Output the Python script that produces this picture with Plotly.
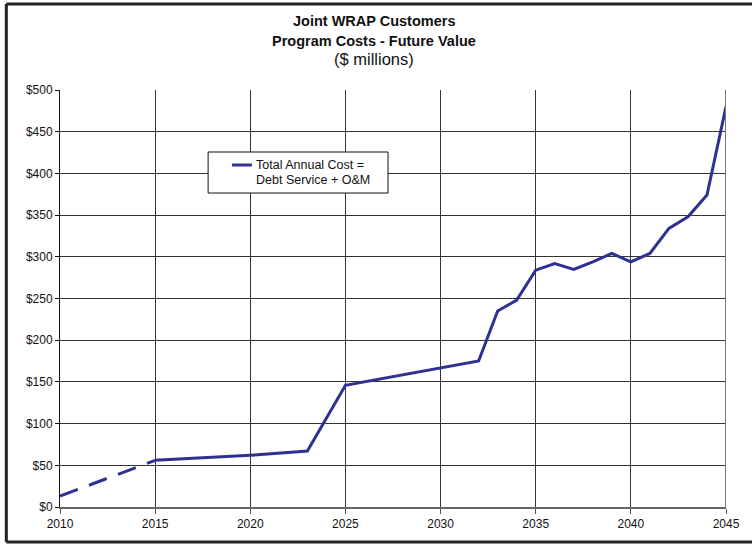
import plotly.graph_objects as go

years_proj = [2010, 2015]
cost_proj = [13, 56]

years = [2015, 2020, 2023, 2025, 2032, 2033, 2034, 2035, 2036, 2037, 2038, 2039,
         2040, 2041, 2042, 2043, 2044, 2045]
cost = [56, 62, 67, 146, 175, 235, 248, 284, 292, 285, 294, 304,
        294, 304, 334, 348, 374, 480]

x_ticks = [2010, 2015, 2020, 2025, 2030, 2035, 2040, 2045]
y_ticks = [0, 50, 100, 150, 200, 250, 300, 350, 400, 450, 500]
y_labels = ["$" + str(v) for v in y_ticks]

legend_lines = ["Total Annual Cost =", "Debt Service + O&M"]

line_color = "#2E3192"
font_family = "Liberation Sans, Arial, sans-serif"

# pixel geometry of the plot area
plot_l, plot_r, plot_top, plot_bottom = 60, 730, 90, 507
W, H = 752, 544
plot_w = plot_r - plot_l
plot_h = plot_bottom - plot_top

def px(pix):
    return (pix - plot_l) / plot_w

def py(pix):
    return (plot_bottom - pix) / plot_h

fig = go.Figure()
fig.add_trace(go.Scatter(x=years_proj, y=cost_proj, mode="lines",
                         line=dict(color=line_color, width=3, dash="19px,12px"),
                         showlegend=False, hoverinfo="skip"))
fig.add_trace(go.Scatter(x=years, y=cost, mode="lines",
                         line=dict(color=line_color, width=3),
                         name=" ".join(legend_lines), showlegend=False))

fig.update_layout(
    width=W, height=H,
    margin=dict(l=plot_l, r=W - plot_r, t=plot_top, b=H - plot_bottom),
    paper_bgcolor="white", plot_bgcolor="white",
    font=dict(family=font_family, size=12, color="#111"),
    showlegend=False,
    xaxis=dict(range=[2010, 2045], tickvals=x_ticks, ticktext=[str(v) for v in x_ticks],
               showgrid=True, gridcolor="#333", gridwidth=1,
               showline=True, linecolor="#666", linewidth=2, mirror=False,
               ticks="outside", ticklen=5, tickcolor="#555", tickwidth=1,
               zeroline=False, tickfont=dict(size=12), fixedrange=True),
    yaxis=dict(range=[0, 500], tickvals=y_ticks, ticktext=y_labels,
               showgrid=True, gridcolor="#333", gridwidth=1,
               showline=True, linecolor="#111", linewidth=1,
               ticks="outside", ticklen=4, tickcolor="#111", tickwidth=1,
               zeroline=False, tickfont=dict(size=12), fixedrange=True),
)

# titles (centred on the page)
cx = px(W / 2)
fig.add_annotation(text="<b>Joint WRAP Customers</b>", x=cx, xref="paper",
                   y=py(21), yref="paper", yanchor="middle", showarrow=False,
                   font=dict(size=14.5))
fig.add_annotation(text="<b>Program Costs - Future Value</b>", x=cx, xref="paper",
                   y=py(41), yref="paper", yanchor="middle", showarrow=False,
                   font=dict(size=14.5))
fig.add_annotation(text="($ millions)", x=cx, xref="paper",
                   y=py(59), yref="paper", yanchor="middle", showarrow=False,
                   font=dict(size=16.5))

# legend box (drawn by hand to match the original layout)
fig.add_shape(type="rect", xref="paper", yref="paper",
              x0=px(209), x1=px(390), y0=py(193), y1=py(152),
              line=dict(color="#111", width=1), fillcolor="white", layer="above")
fig.add_shape(type="line", xref="paper", yref="paper",
              x0=px(233), x1=px(253), y0=py(165), y1=py(165),
              line=dict(color=line_color, width=3), layer="above")
fig.add_annotation(text=legend_lines[0], x=px(255), xref="paper", xanchor="left",
                   y=py(165), yref="paper", yanchor="middle", showarrow=False,
                   font=dict(size=12.5))
fig.add_annotation(text=legend_lines[1], x=px(255), xref="paper", xanchor="left",
                   y=py(180), yref="paper", yanchor="middle", showarrow=False,
                   font=dict(size=12.5))

# right edge of plot area
fig.add_shape(type="line", xref="x", yref="paper", x0=2045, x1=2045, y0=0, y1=1,
              line=dict(color="#777", width=2))
# outer frame: left, top and bottom sides only (right side is off the page)
frame = dict(color="#222", width=3)
fig.add_shape(type="line", xref="paper", yref="paper",
              x0=px(6), x1=px(6), y0=py(542), y1=py(4), line=frame)
fig.add_shape(type="line", xref="paper", yref="paper",
              x0=px(6), x1=px(W + 20), y0=py(4), y1=py(4), line=frame)
fig.add_shape(type="line", xref="paper", yref="paper",
              x0=px(6), x1=px(W + 20), y0=py(542), y1=py(542), line=frame)

fig.write_html("out.html")
